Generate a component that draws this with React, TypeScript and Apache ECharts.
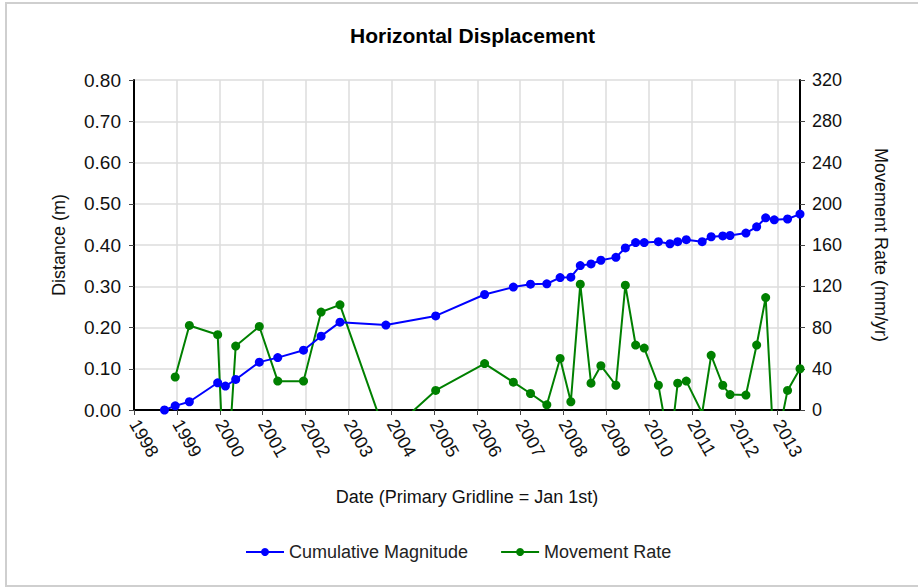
import React, { useEffect, useRef } from "react";
import * as echarts from "echarts";

// Survey dates (decimal years)
const dateYears = [
  1998.71, 1998.96, 1999.29, 1999.95, 2000.13, 2000.37, 2000.92, 2001.35, 2001.95, 2002.36,
  2002.8, 2003.87, 2005.03, 2006.17, 2006.84, 2007.24, 2007.62, 2007.93, 2008.18, 2008.4,
  2008.65, 2008.88, 2009.23, 2009.45, 2009.69, 2009.89, 2010.22, 2010.49, 2010.67, 2010.87,
  2011.24, 2011.45, 2011.72, 2011.89, 2012.26, 2012.51, 2012.72, 2012.92, 2013.23, 2013.52,
];

// Cumulative magnitude (m)
const cumulativeMagnitude = [
  0.0, 0.01, 0.02, 0.066, 0.058, 0.074, 0.116, 0.127, 0.145, 0.179,
  0.213, 0.206, 0.228, 0.28, 0.298, 0.305, 0.306, 0.321, 0.322, 0.35,
  0.354, 0.363, 0.37, 0.393, 0.406, 0.406, 0.408, 0.403, 0.408, 0.413,
  0.408, 0.42, 0.422, 0.423, 0.429, 0.444, 0.466, 0.461, 0.463, 0.475,
];

// Movement rate (mm/yr)
const movementRate: (number | null)[] = [
  null, 32, 82, 73, -95, 62, 81, 28, 28, 95,
  102, -25, 19, 45, 27, 16, 5, 50, 8, 122,
  26, 43, 24, 121, 63, 60, 24, -38, 26, 28,
  -3, 53, 24, 15, 14.5, 63, 109, -45, 19, 40,
];

const leftTicks = { min: 0, max: 0.8, interval: 0.1 };
const rightTicks = { min: 0, max: 320, interval: 40 };
const firstYear = 1998;

const FONT = "'Liberation Sans', Arial, sans-serif";

export default function App() {
  const ref = useRef<HTMLDivElement>(null);

  useEffect(() => {
    if (!ref.current) return;
    const chart = echarts.init(ref.current, undefined, { renderer: "svg" });

    const blueData = dateYears.map((d, i) => [d, cumulativeMagnitude[i]]);
    const greenData = dateYears
      .map((d, i) => [d, movementRate[i]])
      .filter((p) => p[1] !== null);

    chart.setOption({
      animation: false,
      backgroundColor: "#ffffff",
      textStyle: { fontFamily: FONT },
      title: {
        text: "Horizontal Displacement",
        left: 345,
        top: 20,
        textStyle: { fontFamily: FONT, fontSize: 21, fontWeight: "bold", color: "#000" },
      },
      graphic: [
        {
          type: "rect",
          shape: { x: 6, y: 3, width: 930, height: 583 },
          style: { fill: "none", stroke: "#cfcfcf", lineWidth: 2 },
          silent: true,
          z: -1,
        },
      ],
      legend: {
        left: 240,
        top: 538,
        itemWidth: 38,
        itemHeight: 10,
        itemGap: 32,
        data: ["Cumulative Magnitude", "Movement Rate"],
        textStyle: { fontFamily: FONT, fontSize: 18, color: "#222" },
      },
      grid: { left: 134, right: 118, top: 80, bottom: 177 },
      xAxis: {
        type: "value",
        min: firstYear,
        max: dateYears[dateYears.length - 1],
        interval: 1,
        name: "Date (Primary Gridline = Jan 1st)",
        nameLocation: "middle",
        nameGap: 78,
        nameTextStyle: { fontFamily: FONT, fontSize: 18, color: "#111" },
        axisLine: { show: true, onZero: false, lineStyle: { color: "#000", width: 2 } },
        axisTick: { show: true, length: 5, lineStyle: { color: "#444" } },
        axisLabel: {
          rotate: -60,
          fontSize: 18,
          color: "#111",
          margin: 11,
          showMaxLabel: false,
          formatter: (v: number) =>
            Math.abs(v - Math.round(v)) < 1e-6 ? String(Math.round(v)) : "",
        },
        splitLine: { show: true, lineStyle: { color: "#dcdcdc", width: 1.5 } },
      },
      yAxis: [
        {
          type: "value",
          position: "left",
          ...leftTicks,
          name: "Distance (m)",
          nameLocation: "middle",
          nameRotate: 90,
          nameGap: 66,
          nameTextStyle: { fontFamily: FONT, fontSize: 18, color: "#111" },
          axisLine: { show: true, lineStyle: { color: "#000", width: 2 } },
          axisTick: { show: true, length: 5, lineStyle: { color: "#444" } },
          axisLabel: {
            fontSize: 19,
            color: "#111",
            margin: 13,
            formatter: (v: number) => v.toFixed(2),
          },
          splitLine: { show: true, lineStyle: { color: "#dcdcdc", width: 1.5 } },
        },
        {
          type: "value",
          position: "right",
          ...rightTicks,
          name: "Movement Rate (mm/yr)",
          nameLocation: "middle",
          nameRotate: -90,
          nameGap: 72,
          nameTextStyle: { fontFamily: FONT, fontSize: 18, color: "#111" },
          axisLine: { show: true, lineStyle: { color: "#000", width: 2 } },
          axisTick: { show: true, length: 5, lineStyle: { color: "#444" } },
          axisLabel: { fontSize: 18, color: "#111", margin: 12 },
          splitLine: { show: false },
        },
      ],
      series: [
        {
          name: "Cumulative Magnitude",
          type: "line",
          yAxisIndex: 0,
          data: blueData,
          symbol: "circle",
          symbolSize: 9,
          clip: true,
          z: 3,
          itemStyle: { color: "#0000ff" },
          lineStyle: { color: "#0000ff", width: 2 },
        },
        {
          name: "Movement Rate",
          type: "line",
          yAxisIndex: 1,
          data: greenData,
          symbol: "circle",
          symbolSize: 9,
          clip: true,
          z: 2,
          itemStyle: { color: "#008000" },
          lineStyle: { color: "#008000", width: 2 },
        },
      ],
    });

    return () => chart.dispose();
  }, []);

  return (
    <div
      ref={ref}
      style={{ position: "fixed", left: 0, top: 0, width: 918, height: 587, background: "#fff" }}
    />
  );
}
